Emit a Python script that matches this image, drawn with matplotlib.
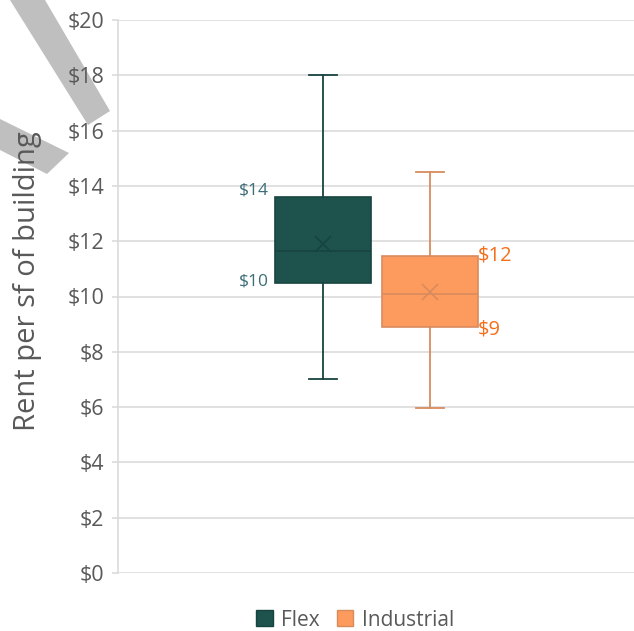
import matplotlib.pyplot as plt
from matplotlib.patches import Polygon, Patch

plt.rcParams['font.family'] = ['Open Sans', 'DejaVu Sans']

# box stats ($ per sf)
names = ["Flex", "Industrial"]
q1 = [10.5, 8.9]
med = [11.65, 10.1]
q3 = [13.6, 11.45]
mean = [11.9, 10.15]
whislo = [7.0, 5.95]
whishi = [18.0, 14.5]
q3_labels = ["$14", "$12"]
q1_labels = ["$10", "$9"]

fills = ["#1e524d", "#fd9b5e"]
edges = ["#174440", "#d98b5c"]
label_cols = ["#3c6d78", "#f46f1c"]

fig = plt.figure(figsize=(6.34, 6.31), dpi=100)
ax = fig.add_axes([118/634, 1 - 573/631, 516/634, 553/631])

pos = [0.397, 0.605]
stats = []
for i in range(2):
    stats.append(dict(label=names[i], q1=q1[i], med=med[i], q3=q3[i], mean=mean[i],
                      whislo=whislo[i], whishi=whishi[i], fliers=[]))

for i in range(2):
    ax.bxp([stats[i]], positions=[pos[i]], widths=0.186, patch_artist=True,
           showmeans=True, manage_ticks=False, capwidths=[0.055],
           boxprops=dict(facecolor=fills[i], edgecolor=edges[i], linewidth=1.2),
           medianprops=dict(color=edges[i], linewidth=1.2),
           whiskerprops=dict(color=edges[i], linewidth=1.3),
           capprops=dict(color=edges[i], linewidth=1.3),
           meanprops=dict(marker='x', markeredgecolor=edges[i], markersize=11, markeredgewidth=1.2))

# value labels
ax.text(pos[0] - 0.105, q3[0] + 0.25, q3_labels[0], color=label_cols[0], fontsize=12.5,
        ha='right', va='center')
ax.text(pos[0] - 0.105, q1[0] + 0.05, q1_labels[0], color=label_cols[0], fontsize=12.5,
        ha='right', va='center')
ax.text(pos[1] + 0.093, q3[1] + 0.05, q3_labels[1], color=label_cols[1], fontsize=14.5,
        ha='left', va='center')
ax.text(pos[1] + 0.093, q1[1] - 0.1, q1_labels[1], color=label_cols[1], fontsize=14.5,
        ha='left', va='center')

ax.set_xlim(0, 1)
ax.set_ylim(0, 20)
ax.set_yticks(range(0, 21, 2))
ax.set_yticklabels(["$" + str(v) for v in range(0, 21, 2)])
ax.set_xticks([])
ax.grid(axis='y', color='#d9d9d9', linewidth=1.1)
ax.set_axisbelow(True)
for s in ['top', 'right', 'bottom']:
    ax.spines[s].set_visible(False)
ax.spines['left'].set_color('#d9d9d9')
ax.spines['left'].set_linewidth(1.1)
ax.tick_params(axis='y', colors='#d9d9d9', labelcolor='#595959', labelsize=15.5,
               length=4, width=1.1, pad=6)
ax.set_ylabel("Rent per sf of building", fontsize=21, color='#595959')
ax.yaxis.set_label_coords(-0.147, 0.528)

# gray decorative bands in the corner, behind the axes text
W, H = 634, 631
band1 = [(10, 0), (45, 0), (110, 111), (88, 125)]
band2 = [(0, 119), (69, 153), (47, 174), (0, 150)]
for b in [band1, band2]:
    pts = [(x / W, 1 - y / H) for x, y in b]
    fig.patches.append(Polygon(pts, closed=True, transform=fig.transFigure,
                               facecolor='#bfbfbf', edgecolor='none', zorder=-1))

handles = [Patch(facecolor=fills[i], edgecolor=edges[i], label=names[i]) for i in range(2)]
fig.legend(handles=handles, loc='center', bbox_to_anchor=(355 / W, 1 - 620 / H), ncol=2,
           frameon=False, fontsize=15, labelcolor='#595959', handlelength=0.8,
           handleheight=0.8, handletextpad=0.4, columnspacing=0.8)

fig.savefig("out.png", dpi=100)
